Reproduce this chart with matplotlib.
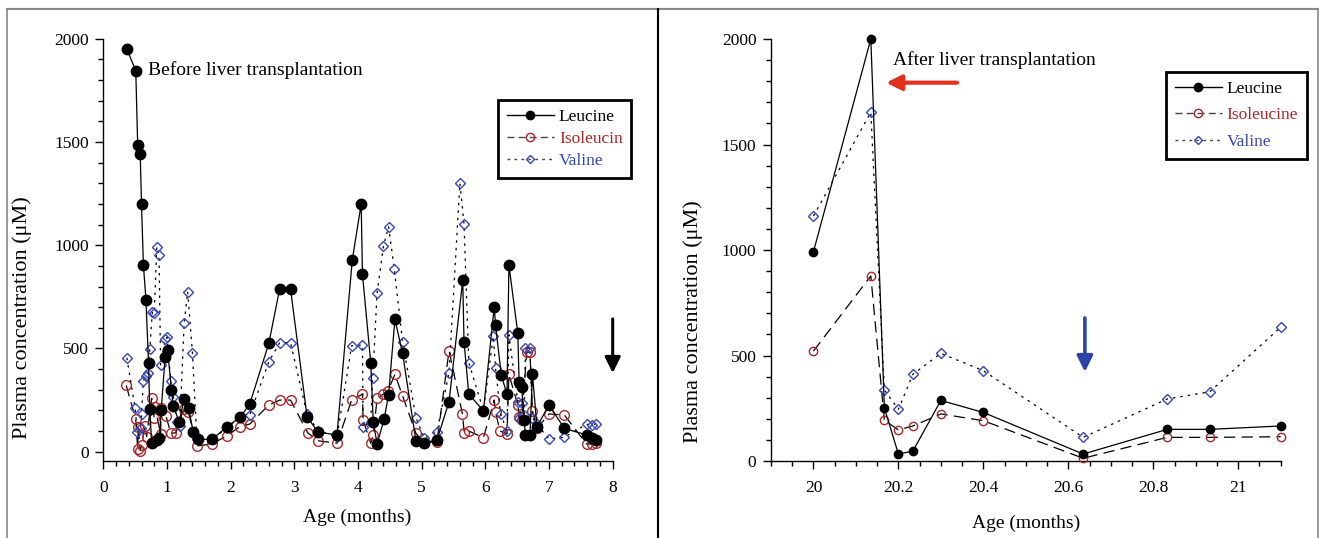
import numpy as np
import matplotlib
matplotlib.use("Agg")
import matplotlib.pyplot as plt
from matplotlib.lines import Line2D

# --- DATA: before transplantation (age in months, concentration in uM) ---
leu_x = [0.37, 0.51, 0.54, 0.58, 0.60, 0.63, 0.67, 0.71, 0.73, 0.76,
         0.84, 0.88, 0.91, 0.97, 1.01, 1.07, 1.10, 1.19, 1.27, 1.34,
         1.41, 1.48, 1.71, 1.94, 2.15, 2.30, 2.60, 2.77, 2.94, 3.20,
         3.37, 3.67, 3.91, 4.05, 4.07, 4.20, 4.24, 4.30, 4.41, 4.48,
         4.58, 4.70, 4.91, 5.04, 5.24, 5.43, 5.645, 5.665, 5.74, 5.97,
         6.14, 6.16, 6.25, 6.34, 6.37, 6.51, 6.53, 6.57, 6.61, 6.63,
         6.70, 6.74, 6.81, 7.00, 7.24, 7.59, 7.67, 7.74]
leu_y = [1950, 1845, 1485, 1440, 1198, 904, 735, 431, 205, 41,
         57, 65, 202, 457, 492, 299, 221, 145, 255, 210,
         97, 60, 60, 121, 167, 231, 525, 789, 789, 170,
         95, 81, 928, 1200, 860, 431, 145, 37, 157, 275,
         641, 476, 53, 44, 57, 242, 831, 533, 278, 199,
         702, 613, 371, 278, 904, 573, 339, 315, 153, 81,
         81, 375, 121, 226, 113, 81, 65, 57]

ile_x = [0.36, 0.51, 0.54, 0.55, 0.58, 0.60, 0.655, 0.68, 0.76, 0.80,
         0.81, 0.90, 0.91, 0.985, 1.06, 1.14, 1.26, 1.335, 1.41, 1.47,
         1.70, 1.94, 2.14, 2.30, 2.60, 2.77, 2.94, 3.21, 3.37, 3.67,
         3.90, 4.07, 4.08, 4.20, 4.24, 4.30, 4.40, 4.47, 4.58, 4.70,
         4.91, 5.04, 5.24, 5.43, 5.64, 5.67, 5.74, 5.97, 6.14, 6.16,
         6.23, 6.34, 6.37, 6.51, 6.53, 6.57, 6.65, 6.70, 6.74, 6.81,
         7.00, 7.24, 7.59, 7.67, 7.74]
ile_y = [321, 157, 15, 121, 5, 32, 124, 73, 258, 162,
         218, 86, 210, 173, 89, 92, 205, 194, 97, 28,
         37, 76, 121, 134, 226, 250, 250, 92, 53, 41,
         250, 279, 153, 41, 81, 258, 279, 295, 375, 270,
         89, 44, 48, 489, 183, 89, 100, 68, 250, 191,
         100, 86, 375, 226, 170, 153, 481, 481, 199, 113,
         183, 178, 37, 37, 41]

val_x = [0.37, 0.50, 0.535, 0.59, 0.60, 0.63, 0.67, 0.70, 0.73, 0.77,
         0.80, 0.84, 0.875, 0.90, 0.97, 1.00, 1.06, 1.10, 1.16, 1.20,
         1.27, 1.325, 1.40, 1.47, 1.70, 1.94, 2.14, 2.30, 2.60, 2.77,
         2.94, 3.20, 3.37, 3.67, 3.90, 4.07, 4.08, 4.20, 4.23, 4.30,
         4.40, 4.48, 4.57, 4.70, 4.91, 5.04, 5.24, 5.43, 5.60, 5.665,
         5.74, 5.97, 6.125, 6.16, 6.24, 6.34, 6.37, 6.51, 6.53, 6.57,
         6.61, 6.63, 6.70, 6.74, 6.81, 7.00, 7.24, 7.59, 7.67, 7.74]
val_y = [455, 210, 97, 113, 182, 344, 367, 383, 496, 675,
         670, 993, 953, 420, 544, 554, 344, 266, 145, 126,
         622, 775, 479, 60, 60, 113, 170, 178, 436, 528,
         528, 182, 102, 73, 513, 517, 118, 145, 355, 770,
         996, 1090, 885, 533, 165, 65, 97, 383, 1300, 1103,
         431, 199, 560, 407, 181, 102, 565, 242, 162, 234,
         178, 504, 504, 165, 134, 61, 70, 133, 128, 136]

# --- DATA: after transplantation ---
post_x = [20.0, 20.135, 20.167, 20.2, 20.234, 20.3, 20.4, 20.635, 20.833, 20.933, 21.1]
post_leu = [992, 2000, 250, 33, 47, 287, 230, 33, 150, 150, 166]
post_ile = [521, 877, 194, 147, 166, 223, 191, 13, 112, 112, 115]
post_val = [1161, 1653, 336, 245, 411, 510, 428, 112, 294, 328, 634]

# --- STYLE ---
plt.rcParams['font.family'] = ['Liberation Serif', 'DejaVu Serif']
RED = "#A8282A"
BLUE = "#3646B4"
TICK_FS = 12.5
LABEL_FS = 14
YLABEL_FS = 16

fig = plt.figure(figsize=(13.19, 5.38), dpi=100)
W, H = 1319, 538
ax1 = fig.add_axes([103.3 / W, 1 - 461 / H, 509.4 / W, 422.3 / H])
ax2 = fig.add_axes([771 / W, 1 - 461 / H, 509.7 / W, 422 / H])


def draw_series(ax, xs, ly, iy, vy, big):
    ms_c = 7.5 if big else 6
    ms_o = 7 if big else 6
    ms_d = 5.5 if big else 4.8
    ax.plot(xs[0], ly, color='black', lw=0.9, ls='-', marker='o', ms=ms_c,
            mfc='black', mec='black', clip_on=False, zorder=4)
    ax.plot(xs[1], iy, color='black', lw=0.9, ls=(0, (9, 5)), marker='o', ms=ms_o,
            mfc='none', mec=RED, mew=1.0, clip_on=False, zorder=3)
    ax.plot(xs[2], vy, color='black', lw=0.9, ls=(0, (2, 4)), marker='D', ms=ms_d,
            mfc='none', mec=BLUE, mew=1.0, clip_on=False, zorder=3)


draw_series(ax1, (leu_x, ile_x, val_x), leu_y, ile_y, val_y, True)
draw_series(ax2, (post_x, post_x, post_x), post_leu, post_ile, post_val, False)

for ax in (ax1, ax2):
    for s in ("top", "right"):
        ax.spines[s].set_visible(False)
    ax.spines["left"].set_linewidth(1.0)
    ax.spines["bottom"].set_linewidth(1.0)
    ax.tick_params(which='major', direction='out', length=6, width=1, labelsize=TICK_FS)
    ax.tick_params(which='minor', direction='out', length=3.5, width=1)
    ax.tick_params(axis='x', which='major', pad=8)
    ax.tick_params(axis='y', which='major', pad=4.5)
    ax.set_yticks([0, 500, 1000, 1500, 2000])
    ax.set_yticks(np.arange(0, 2001, 100), minor=True)
    ax.set_ylabel("Plasma concentration (\u03bcM)", fontsize=YLABEL_FS)
    ax.set_xlabel("Age (months)", fontsize=LABEL_FS)

ax1.set_xlim(0, 8)
ax1.set_ylim(-45, 2000)
ax1.set_xticks(range(0, 9))
ax1.set_xticks(np.arange(0, 8.01, 0.2), minor=True)
ax1.yaxis.set_label_coords(-0.14, 0.34)
ax1.xaxis.set_label_coords(0.498, -0.114)

ax2.set_xlim(19.9, 21.1)
ax2.set_ylim(0, 2000)
ax2.set_xticks([20, 20.2, 20.4, 20.6, 20.8, 21])
ax2.set_xticklabels(["20", "20.2", "20.4", "20.6", "20.8", "21"])
ax2.set_xticks(np.arange(19.9, 21.101, 0.05), minor=True)
ax2.yaxis.set_label_coords(-0.133, 0.33)
ax2.xaxis.set_label_coords(0.5, -0.128)

# annotations
ax1.text(0.70, 1848, "Before liver transplantation", fontsize=14, va='center', ha='left')
ax2.text(20.1875, 1900, "After liver transplantation", fontsize=14, va='center', ha='left')

ax1.annotate('', xy=(8.0, 381), xytext=(8.0, 643), annotation_clip=False,
             arrowprops=dict(arrowstyle='-|>,head_length=0.95,head_width=0.47',
                             lw=2.2, color='black', shrinkA=0, shrinkB=0, mutation_scale=10))
ax2.annotate('', xy=(20.171, 1793), xytext=(20.338, 1793),
             arrowprops=dict(arrowstyle='-|>,head_length=0.9,head_width=0.45',
                             lw=3, color='#E0301E', shrinkA=0, shrinkB=0, mutation_scale=10))
ax2.annotate('', xy=(20.639, 422), xytext=(20.639, 678),
             arrowprops=dict(arrowstyle='-|>,head_length=0.95,head_width=0.47',
                             lw=2.6, color='#2B44A6', shrinkA=0, shrinkB=0, mutation_scale=10))


# legends
def make_legend(ax, ile_name, anchor, spacing):
    handles = [
        Line2D([], [], color='black', lw=1, ls='-', marker='o', ms=6, mfc='black', mec='black'),
        Line2D([], [], color='#444444', lw=1, ls=(0, (5, 3)), marker='o', ms=6, mfc='none', mec=RED),
        Line2D([], [], color='#444444', lw=1, ls=(0, (2, 3)), marker='D', ms=4.5, mfc='none', mec=BLUE),
    ]
    leg = ax.legend(handles, ["Leucine", ile_name, "Valine"], loc='upper left',
                    bbox_to_anchor=anchor, borderaxespad=0, fontsize=12.5,
                    handlelength=2.7, handletextpad=0.3, labelspacing=spacing,
                    fancybox=False, framealpha=1, edgecolor='black', borderpad=0.5)
    leg.get_frame().set_linewidth(2)
    for t, c in zip(leg.get_texts(), ['black', RED, BLUE]):
        t.set_color(c)
    return leg


make_legend(ax1, "Isoleucin", (0.775, 0.855), 0.35)
make_legend(ax2, "Isoleucine", (0.775, 0.922), 0.6)

# outer frame like the source figure
top = 1 - 9 / H
fig.add_artist(Line2D([7 / W, 1318 / W], [top, top], color='#888888', lw=1.5))
fig.add_artist(Line2D([7 / W, 7 / W], [0, top], color='#888888', lw=1.2))
fig.add_artist(Line2D([1318 / W, 1318 / W], [0, top], color='#888888', lw=1.2))
fig.add_artist(Line2D([658 / W, 658 / W], [0, top], color='black', lw=1.5))

fig.savefig("out.png", dpi=100)
